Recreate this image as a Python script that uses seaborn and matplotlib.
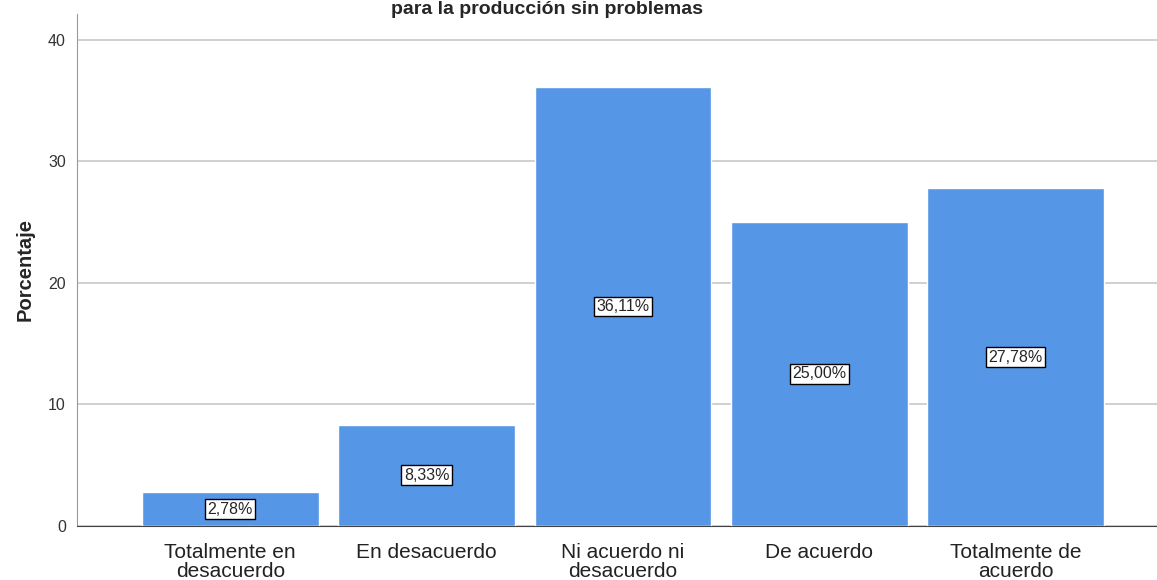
import matplotlib
matplotlib.use("Agg")
import matplotlib.pyplot as plt
import seaborn as sb
import pandas as pd

categorias = ["Totalmente en\ndesacuerdo", "En desacuerdo", "Ni acuerdo ni\ndesacuerdo",
              "De acuerdo", "Totalmente de\nacuerdo"]
porcentajes = [2.78, 8.33, 36.11, 25.00, 27.78]
etiquetas = ["2,78%", "8,33%", "36,11%", "25,00%", "27,78%"]

df = pd.DataFrame({"categoria": categorias, "porcentaje": porcentajes})

sb.set_style("white")
plt.rcParams["font.family"] = ["Liberation Sans", "DejaVu Sans"]

fig = plt.figure(figsize=(11.57, 5.8), dpi=100)
ax = fig.add_axes([0.0666, 0.0931, 0.9334, 0.8828])

sb.barplot(data=df, x="categoria", y="porcentaje", color="#5596e6", width=0.9,
           saturation=1, ax=ax, zorder=3)

ax.set_ylim(0, 42.1)
ax.set_xlim(-0.78, 4.72)
ax.set_yticks([0, 10, 20, 30, 40])
ax.yaxis.grid(True, color="#c8c8c8", linewidth=1.2, zorder=0)
ax.set_axisbelow(True)

for s in ["top", "right"]:
    ax.spines[s].set_visible(False)
ax.spines["left"].set_color("#999999")
ax.spines["bottom"].set_color("#444444")

ax.tick_params(axis="x", length=0, labelsize=15, pad=12, colors="#222222")
ax.tick_params(axis="y", length=0, labelsize=11.5, pad=8, colors="#333333")
for lab in ax.get_xticklabels():
    lab.set_linespacing(1.0)
ax.set_xlabel("")
ax.set_ylabel("Porcentaje", fontsize=14.5, fontweight="bold", labelpad=10)

# etiquetas en el centro de cada barra
for i, (v, t) in enumerate(zip(porcentajes, etiquetas)):
    ax.text(i, v / 2, t, ha="center", va="center", fontsize=11.5, zorder=5,
            bbox=dict(boxstyle="square,pad=0.15", facecolor="white", edgecolor="black", linewidth=1))

fig.text(0.473, 1 - 14 / 580, "para la producción sin problemas", ha="center", va="baseline",
         fontsize=14, fontweight="bold")

fig.savefig("out.png", dpi=100)
